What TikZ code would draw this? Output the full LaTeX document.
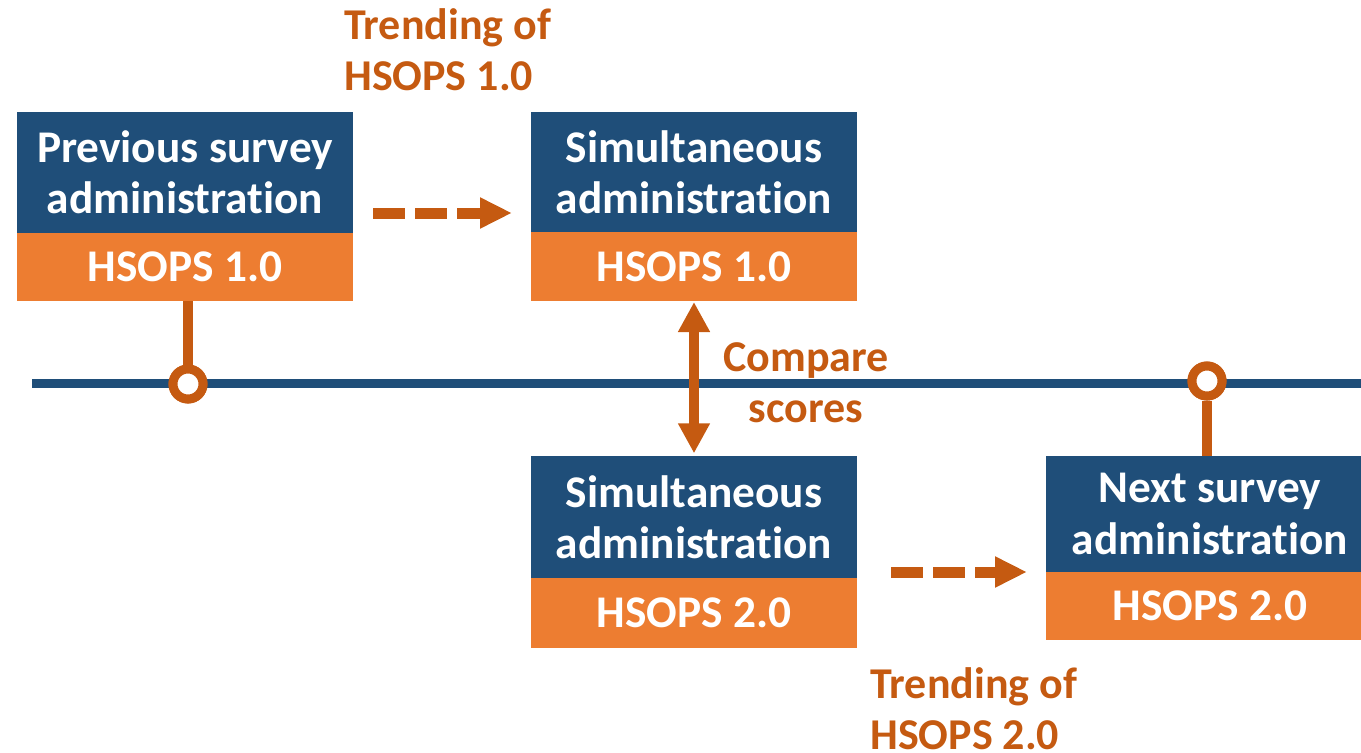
\documentclass[tikz,border=0pt]{standalone}
\usepackage{fontspec}
\setmainfont{Carlito}[Ligatures=NoCommon]
\usetikzlibrary{arrows.meta}
\definecolor{dblue}{HTML}{1F4E79}
\definecolor{lorange}{HTML}{ED7D31}
\definecolor{dorange}{HTML}{C55A11}
\tikzset{
  txt/.style={font=\fontsize{34}{38.5}\selectfont\bfseries},
  ltxt/.style={font=\fontsize{33}{38.5}\selectfont\bfseries},
  bluebox/.style={txt, fill=dblue, text=white, inner sep=0pt, outer sep=0pt, align=center, anchor=north west},
  orangebox/.style={txt, fill=lorange, text=white, inner sep=0pt, outer sep=0pt, align=center, anchor=north west},
  lbl/.style={ltxt, text=dorange, inner sep=0pt},
  ring/.style={circle, draw=dorange, fill=white, line width=6.75pt, minimum size=22.5pt, inner sep=0pt},
  stem/.style={draw=dorange, line width=7.5pt},
  timeline/.style={draw=dblue, line width=6.75pt},
  dasharrow/.style={draw=dorange, line width=8.25pt, dash pattern=on 24pt off 7.5pt,
    -{Triangle[length=24pt, width=21.75pt]}},
  dblarrow/.style={draw=dorange, line width=7.5pt,
    {Triangle[length=22.5pt, width=22.5pt]}-{Triangle[length=22.5pt, width=22.5pt]}}
}
\begin{document}
\begin{tikzpicture}[x=0.75pt, y=-0.75pt]
\clip (0,0) rectangle (1361,753);
% timeline
\coordinate (tl0) at (32,383);
\coordinate (tl1) at (1361,383);
\draw[timeline] (tl0) -- (tl1);
% boxes
\node[bluebox, minimum width=252pt, minimum height=90.75pt] (b1b) at (17,112) {Previous survey\\administration};
\node[orangebox, minimum width=252pt, minimum height=51pt] (b1o) at (17,233) {HSOPS 1.0};
\node[bluebox, minimum width=244.5pt, minimum height=90pt] (b2b) at (531,112) {Simultaneous\\administration};
\node[orangebox, minimum width=244.5pt, minimum height=51.75pt] (b2o) at (531,232) {HSOPS 1.0};
\node[bluebox, minimum width=244.5pt, minimum height=91.5pt] (b3b) at (531,456) {Simultaneous\\administration};
\node[orangebox, minimum width=244.5pt, minimum height=52.5pt] (b3o) at (531,578) {HSOPS 2.0};
\node[bluebox, minimum width=246pt, minimum height=87pt] (b4b) at (1046,456) {Next survey\\administration};
\node[orangebox, minimum width=246pt, minimum height=51pt] (b4o) at (1046,572) {HSOPS 2.0};
% rings on timeline
\node[ring] (c1) at (188,384) {};
\node[ring] (c2) at (1207,381) {};
\draw[stem] (c1.north) -- (c1.north |- b1o.south);
\draw[stem] (c2.south) -- (c2.south |- b4b.north);
\node[ring] at (c1) {};
\node[ring] at (c2) {};
% dashed trend arrows
\coordinate (t1s) at (373,213);
\coordinate (t1e) at (512,213);
\draw[dasharrow] (t1s) -- (t1e);
\coordinate (t2s) at (891,572);
\coordinate (t2e) at (1027,572);
\draw[dasharrow] (t2s) -- (t2e);
% compare arrow
\draw[dblarrow] ([yshift=-0.75pt]b2o.south) -- ([yshift=2pt]b3b.north);
% labels
\node[lbl, anchor=west, align=left] (l1) at (344,50) {Trending of\\HSOPS 1.0};
\node[lbl, align=center] (l2) at (806,383) {Compare\\scores};
\node[lbl, anchor=west, align=left] (l3) at (870,709) {Trending of\\HSOPS 2.0};
\end{tikzpicture}
\end{document}
